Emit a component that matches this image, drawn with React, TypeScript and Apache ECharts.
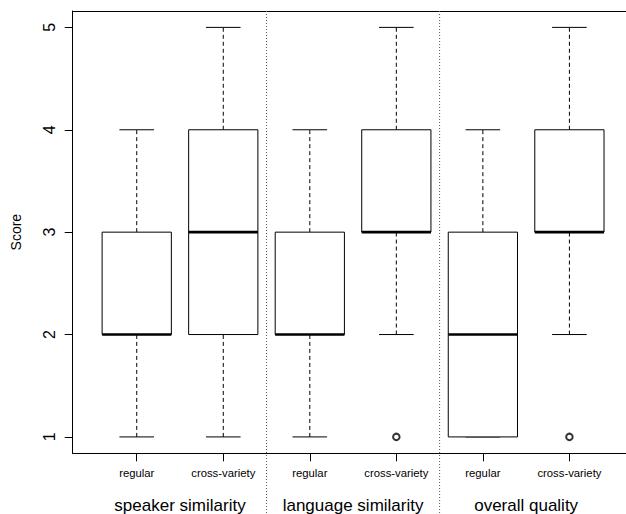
import React, { useEffect, useRef } from "react";
import * as echarts from "echarts";

// ---- data ----
const subLabels = ["regular", "cross-variety", "regular", "cross-variety", "regular", "cross-variety"];
const groupLabels = ["speaker similarity", "language similarity", "overall quality"];
const groupPositions = [1.5, 3.5, 5.5];
const separatorPositions = [2.5, 4.5];
const boxPositions = [1, 2, 3, 4, 5, 6];
// [lower whisker, Q1, median, Q3, upper whisker]
const boxStats = [
  [1, 2, 2, 3, 4],
  [1, 2, 3, 4, 5],
  [1, 2, 2, 3, 4],
  [2, 3, 3, 4, 5],
  [1, 1, 2, 3, 4],
  [2, 3, 3, 4, 5],
];
const outliers = [
  [4, 1],
  [6, 1],
];
const yTicks = [1, 2, 3, 4, 5];

const X_MIN = 0.26;
const X_MAX = 6.654; // plot region is cut off at the right edge of the picture
const Y_MIN = 0.84;
const Y_MAX = 5.16;
const FONT = "'Liberation Sans', Arial, Helvetica, sans-serif";

export default function App() {
  const ref = useRef<HTMLDivElement>(null);
  useEffect(() => {
    if (!ref.current) return;
    const chart = echarts.init(ref.current, null, { renderer: "svg" });
    const gridCfg = { left: 72.7, right: 0, top: 11, bottom: 60.7, containLabel: false, show: false };
    const boxData = boxPositions.map((p, i) => [p, ...boxStats[i]]);
    chart.setOption({
      animation: false,
      backgroundColor: "#fff",
      grid: [{ ...gridCfg }, { ...gridCfg }],
      xAxis: [
        {
          type: "value",
          gridIndex: 0,
          min: X_MIN,
          max: X_MAX,
          position: "bottom",
          splitLine: { show: false },
          axisLine: { show: true, lineStyle: { color: "#000", width: 1 } },
          axisTick: { show: true, customValues: boxPositions, length: 8, lineStyle: { color: "#000" } },
          axisLabel: {
            show: true,
            customValues: boxPositions,
            formatter: (v: number) => subLabels[Math.round(v) - 1] ?? "",
            fontSize: 11.3,
            fontFamily: FONT,
            color: "#000",
            margin: 14,
          },
        },
        {
          type: "value",
          gridIndex: 1,
          min: X_MIN,
          max: X_MAX,
          position: "bottom",
          splitLine: { show: false },
          axisLine: { show: false },
          axisTick: { show: false },
          axisLabel: {
            show: true,
            customValues: groupPositions,
            formatter: (v: number) => groupLabels[groupPositions.indexOf(v)] ?? "",
            fontSize: 17,
            fontFamily: FONT,
            color: "#000",
            margin: 44,
          },
        },
        {
          type: "value",
          gridIndex: 0,
          min: X_MIN,
          max: X_MAX,
          position: "top",
          splitLine: { show: false },
          axisLine: { show: true, lineStyle: { color: "#000", width: 1 } },
          axisTick: { show: false },
          axisLabel: { show: false },
        },
      ],
      yAxis: [
        {
          type: "value",
          gridIndex: 0,
          min: Y_MIN,
          max: Y_MAX,
          splitLine: { show: false },
          axisLine: { show: true, lineStyle: { color: "#000", width: 1 } },
          axisTick: { show: true, customValues: yTicks, length: 8, lineStyle: { color: "#000" } },
          axisLabel: {
            show: true,
            customValues: yTicks,
            rotate: 90,
            fontSize: 16,
            fontFamily: FONT,
            color: "#000",
            margin: 15,
          },
          name: "Score",
          nameLocation: "middle",
          nameRotate: 90,
          nameGap: 50,
          nameTextStyle: { fontSize: 14, fontFamily: FONT, color: "#000000" },
        },
        {
          type: "value",
          gridIndex: 1,
          min: Y_MIN,
          max: Y_MAX,
          show: false,
        },
      ],
      series: [
        {
          type: "custom",
          xAxisIndex: 0,
          yAxisIndex: 0,
          clip: false,
          data: separatorPositions.map((p) => [p]),
          renderItem: (params: any, api: any) => {
            const top = api.coord([api.value(0), Y_MAX]);
            return {
              type: "line",
              shape: { x1: top[0], y1: top[1], x2: top[0], y2: api.getHeight() },
              style: { stroke: "#555", lineWidth: 1, lineDash: [1, 2] },
              z2: 1,
            };
          },
        },
        {
          type: "custom",
          xAxisIndex: 0,
          yAxisIndex: 0,
          clip: false,
          encode: { x: 0, y: [1, 2, 3, 4, 5] },
          data: boxData,
          renderItem: (params: any, api: any) => {
            const x = api.value(0);
            const lo = api.value(1);
            const q1 = api.value(2);
            const med = api.value(3);
            const q3 = api.value(4);
            const hi = api.value(5);
            const c = (xx: number, yy: number) => api.coord([xx, yy]);
            const pLo = c(x, lo);
            const pQ1 = c(x, q1);
            const pQ3 = c(x, q3);
            const pHi = c(x, hi);
            const capL = c(x - 0.2, hi)[0];
            const capR = c(x + 0.2, hi)[0];
            const boxL = c(x - 0.4, q3);
            const boxR = c(x + 0.4, q1);
            const medL = c(x - 0.4, med);
            const medR = c(x + 0.4, med);
            const children: any[] = [];
            if (hi > q3) {
              children.push({
                type: "line",
                shape: { x1: pQ3[0], y1: pQ3[1], x2: pHi[0], y2: pHi[1] },
                style: { stroke: "#000", lineWidth: 1, lineDash: [4, 3] },
              });
            }
            if (lo < q1) {
              children.push({
                type: "line",
                shape: { x1: pLo[0], y1: pLo[1], x2: pQ1[0], y2: pQ1[1] },
                style: { stroke: "#000", lineWidth: 1, lineDash: [4, 3] },
              });
            }
            children.push({
              type: "line",
              shape: { x1: capL, y1: pHi[1], x2: capR, y2: pHi[1] },
              style: { stroke: "#000", lineWidth: 1 },
            });
            children.push({
              type: "line",
              shape: { x1: capL, y1: pLo[1], x2: capR, y2: pLo[1] },
              style: { stroke: "#000", lineWidth: 1 },
            });
            children.push({
              type: "rect",
              shape: { x: boxL[0], y: boxL[1], width: boxR[0] - boxL[0], height: boxR[1] - boxL[1] },
              style: { fill: "#fff", stroke: "#000", lineWidth: 1 },
            });
            children.push({
              type: "line",
              shape: { x1: medL[0], y1: medL[1], x2: medR[0], y2: medR[1] },
              style: { stroke: "#000", lineWidth: 2.6 },
            });
            return { type: "group", children };
          },
        },
        {
          type: "scatter",
          xAxisIndex: 0,
          yAxisIndex: 0,
          data: outliers,
          symbol: "emptyCircle",
          symbolSize: 6.5,
          itemStyle: { color: "#000", borderColor: "#000", borderWidth: 1.8 },
          clip: false,
          z: 5,
        },
      ],
    });
    return () => chart.dispose();
  }, []);
  return (
    <div
      ref={ref}
      style={{ position: "absolute", left: 0, top: 0, width: 626, height: 514 }}
    />
  );
}
